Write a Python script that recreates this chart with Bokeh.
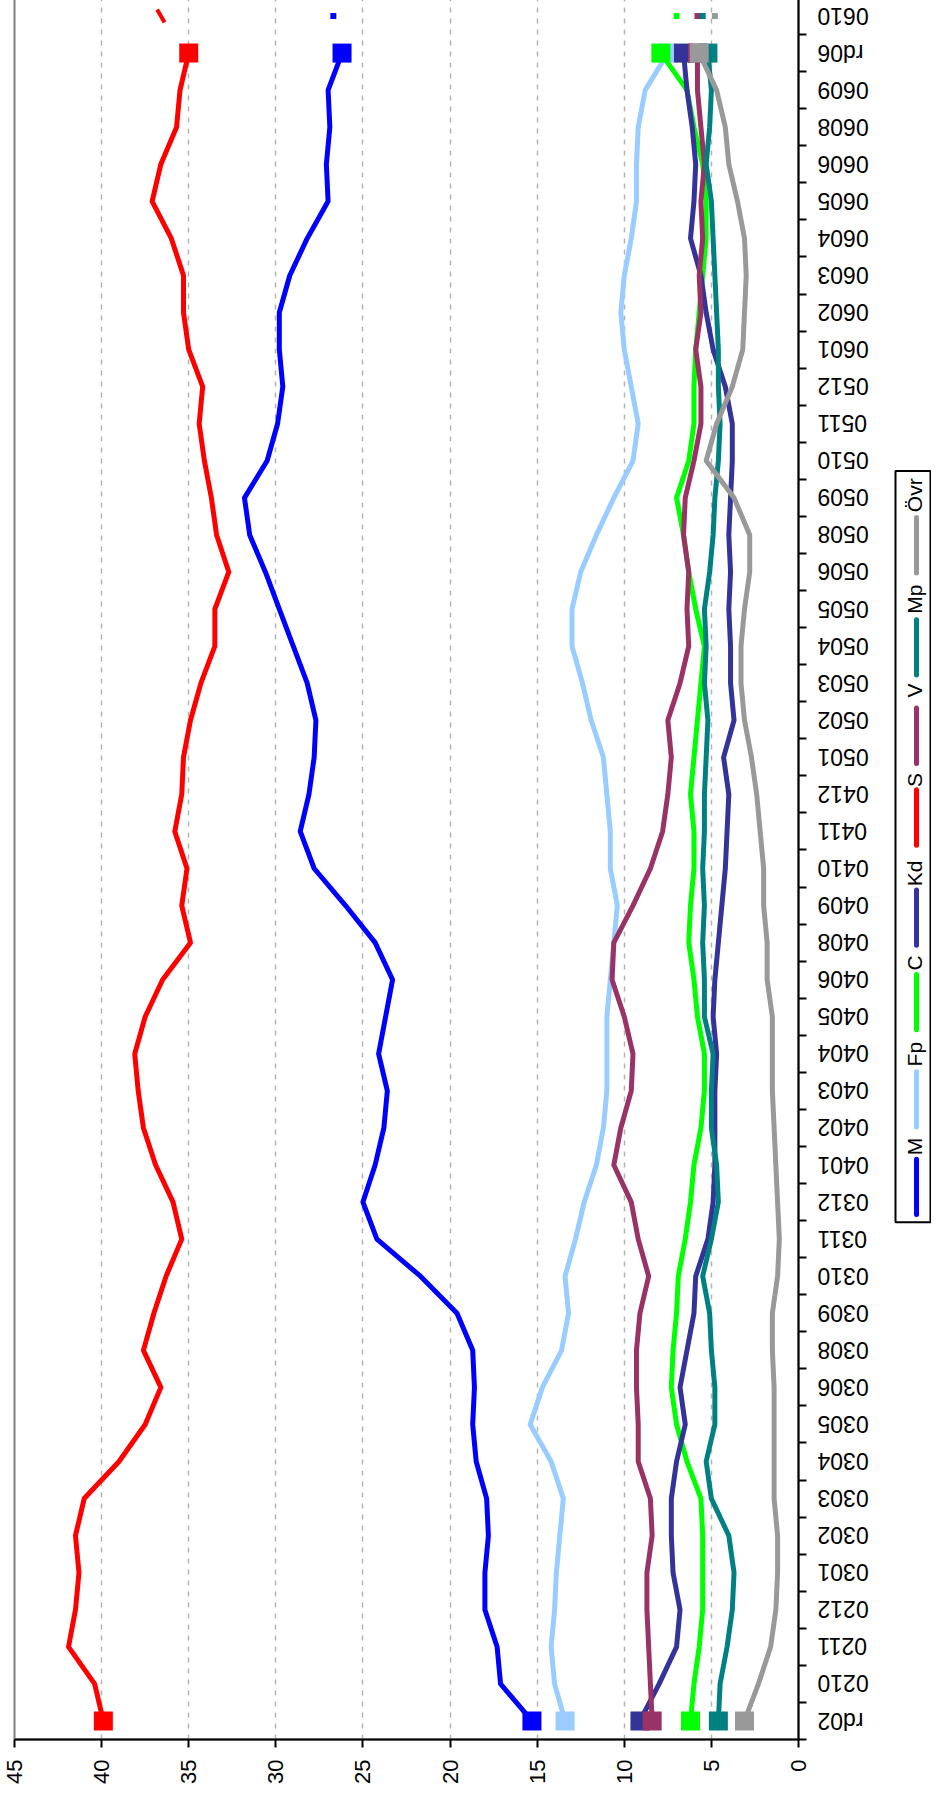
import math
from bokeh.plotting import figure
from bokeh.models import Range1d, FixedTicker, LinearAxis, Grid
from bokeh.layouts import row
from bokeh.embed import file_html
from bokeh.resources import INLINE
from bokeh.core.properties import value

# ---------------- data ----------------
categories = ["rd02", "0210", "0211", "0212", "0301", "0302", "0303", "0304", "0305", "0306",
              "0308", "0309", "0310", "0311", "0312", "0401", "0402", "0403", "0404", "0405",
              "0406", "0408", "0409", "0410", "0411", "0412", "0501", "0502", "0503", "0504",
              "0505", "0506", "0508", "0509", "0510", "0511", "0512", "0601", "0602", "0603",
              "0604", "0605", "0606", "0608", "0609", "rd06", "0610"]

value_ticks = [0, 5, 10, 15, 20, 25, 30, 35, 40, 45]

M = [15.3, 17.1, 17.3, 18.0, 18.0, 17.8, 17.9, 18.5, 18.7, 18.6,
     18.7, 19.6, 21.7, 24.2, 25.0, 24.3, 23.8, 23.6, 24.1, 23.7,
     23.3, 24.3, 26.0, 27.8, 28.6, 28.1, 27.8, 27.7, 28.2, 29.0,
     29.8, 30.6, 31.5, 31.8, 30.5, 29.9, 29.6, 29.8, 29.8, 29.2,
     28.2, 27.0, 27.1, 26.9, 27.0, 26.2]
Fp = [13.4, 14.0, 14.2, 14.0, 13.9, 13.7, 13.5, 14.2, 15.4, 14.7,
      13.6, 13.2, 13.4, 12.8, 12.3, 11.6, 11.2, 11.0, 11.0, 11.0,
      10.8, 10.6, 10.4, 10.8, 10.8, 11.0, 11.2, 11.9, 12.4, 13.0,
      13.0, 12.5, 11.6, 10.6, 9.5, 9.2, 9.6, 10.0, 10.2, 10.0,
      9.6, 9.3, 9.3, 9.2, 8.8, 7.5]
C = [6.2, 6.0, 5.7, 5.5, 5.5, 5.5, 5.6, 6.4, 7.0, 7.3,
     7.2, 7.0, 6.9, 6.5, 6.2, 6.0, 5.6, 5.4, 5.4, 5.8,
     6.0, 6.3, 6.2, 6.0, 6.0, 6.2, 6.0, 5.8, 5.6, 5.4,
     5.9, 6.3, 6.6, 7.0, 6.3, 6.0, 6.0, 5.9, 5.7, 5.5,
     5.3, 5.3, 5.5, 6.0, 6.4, 7.9]
Kd = [9.1, 8.0, 7.0, 6.8, 7.2, 7.3, 7.3, 7.0, 6.5, 6.8,
      6.4, 6.0, 5.9, 5.2, 4.9, 4.8, 4.8, 4.8, 4.7, 4.9,
      4.8, 4.6, 4.4, 4.2, 4.1, 4.0, 4.3, 3.7, 3.9, 3.9,
      4.0, 3.9, 4.0, 3.9, 3.8, 3.8, 4.2, 4.9, 5.3, 5.6,
      6.2, 6.0, 5.9, 6.1, 6.4, 6.6]
S = [39.9, 40.4, 41.9, 41.5, 41.3, 41.5, 41.0, 39.0, 37.5, 36.6,
     37.6, 37.0, 36.3, 35.4, 35.9, 36.9, 37.6, 37.9, 38.1, 37.5,
     36.5, 34.9, 35.4, 35.1, 35.8, 35.4, 35.3, 34.9, 34.3, 33.5,
     33.5, 32.7, 33.4, 33.7, 34.1, 34.4, 34.2, 35.0, 35.3, 35.3,
     36.0, 37.1, 36.6, 35.7, 35.5, 35.0]
V = [8.4, 8.5, 8.6, 8.7, 8.7, 8.4, 8.5, 9.2, 9.2, 9.3,
     9.3, 9.1, 8.6, 9.2, 9.6, 10.6, 10.2, 9.6, 9.5, 10.0,
     10.7, 10.6, 9.5, 8.5, 7.8, 7.5, 7.3, 7.5, 6.8, 6.3,
     6.4, 6.3, 6.6, 6.5, 6.0, 5.6, 5.6, 5.9, 5.6, 5.7,
     5.5, 5.6, 5.4, 5.6, 5.8, 5.8]
Mp = [4.6, 4.5, 4.1, 3.8, 3.7, 4.0, 5.0, 5.3, 4.8, 4.8,
      5.0, 5.1, 5.5, 5.0, 4.6, 4.7, 5.0, 5.0, 4.9, 5.4,
      5.4, 5.5, 5.4, 5.5, 5.4, 5.4, 5.3, 5.2, 5.4, 5.3,
      5.4, 5.1, 4.9, 4.8, 4.6, 4.5, 4.6, 4.6, 4.7, 4.8,
      4.9, 5.0, 5.3, 5.1, 5.0, 5.2]
Ovr = [3.1, 2.3, 1.6, 1.3, 1.2, 1.2, 1.4, 1.4, 1.4, 1.4,
       1.5, 1.5, 1.2, 1.1, 1.2, 1.3, 1.4, 1.5, 1.5, 1.5,
       1.8, 1.8, 2.0, 2.0, 2.2, 2.4, 2.7, 3.1, 3.3, 3.3,
       3.1, 2.8, 2.8, 3.7, 5.3, 4.7, 3.8, 3.2, 3.1, 3.0,
       3.1, 3.5, 4.0, 4.2, 4.7, 5.7]

# poll values for the last category (0610); None = not visible
oct06 = {"M": 26.7, "Fp": None, "C": 7.0, "Kd": 5.6, "S": 36.6, "V": 5.8, "Mp": 5.5, "Övr": 4.8}

series_names = ["M", "Fp", "C", "Kd", "S", "V", "Mp", "Övr"]
series_values = [M, Fp, C, Kd, S, V, Mp, Ovr]
series_colors = ["#0000FF", "#99CCFF", "#00FF00", "#333399", "#FF0000", "#993366", "#008080", "#999999"]

# ---------------- main chart ----------------
FONT = "Liberation Sans"
ncat = len(categories)
H = 1792
BOTTOM = 50

p = figure(width=814, height=H, x_range=Range1d(45, 0), y_range=Range1d(0, ncat),
           output_backend="svg", toolbar_location=None,
           x_axis_type=None, y_axis_type=None,
           min_border_left=14, min_border_right=16, min_border_top=0, min_border_bottom=BOTTOM)
p.background_fill_color = "white"
p.border_fill_color = "white"
p.outline_line_color = "#808080"
p.outline_line_width = 2

xaxis = LinearAxis(ticker=FixedTicker(ticks=value_ticks, minor_ticks=[]))
xaxis.major_label_orientation = math.pi / 2
xaxis.major_label_text_font = FONT
xaxis.major_label_text_font_size = "22px"
xaxis.major_label_text_color = "black"
xaxis.major_label_standoff = 12
xaxis.major_tick_out = 8
xaxis.major_tick_in = 0
xaxis.major_tick_line_width = 2
xaxis.axis_line_width = 2
xaxis.axis_line_color = "black"
p.add_layout(xaxis, "below")

centers = [i + 0.5 for i in range(ncat)]
yaxis = LinearAxis(ticker=FixedTicker(ticks=centers, minor_ticks=list(range(ncat + 1))))
yaxis.major_label_overrides = {c: "" for c in centers}
yaxis.major_label_standoff = 0
yaxis.major_tick_out = 0
yaxis.major_tick_in = 0
yaxis.minor_tick_out = 8
yaxis.minor_tick_in = 0
yaxis.minor_tick_line_width = 2
yaxis.minor_tick_line_color = "black"
yaxis.axis_line_width = 2
yaxis.axis_line_color = "black"
p.add_layout(yaxis, "right")

grid = Grid(dimension=0, ticker=FixedTicker(ticks=value_ticks[1:-1]))
grid.grid_line_color = "#b4b4b4"
grid.grid_line_width = 1.5
grid.grid_line_dash = "5 6"
p.add_layout(grid)

for name, vals, col in zip(series_names, series_values, series_colors):
    ys = centers[:len(vals)]
    p.line(x=vals, y=ys, line_color=col, line_width=5, line_join="round")
    p.scatter(x=[vals[0], vals[-1]], y=[ys[0], ys[-1]], marker="square", size=19,
              fill_color=col, line_color=None)

for name, col in zip(series_names, series_colors):
    v = oct06[name]
    if v is None:
        continue
    if name == "S":
        p.scatter(x=[v], y=[centers[-1]], marker="dash", size=15, angle=-1.05,
                  line_color=col, line_width=4)
    else:
        p.scatter(x=[v], y=[centers[-1]], marker="square", size=6,
                  fill_color=col, line_color=None)

# ---------------- category labels panel (upside-down text, as in the rotated chart) ----------------
r = figure(width=73, height=H, x_range=Range1d(0, 73), y_range=p.y_range,
           output_backend="svg", toolbar_location=None,
           x_axis_type=None, y_axis_type=None,
           min_border_left=0, min_border_right=0, min_border_top=0, min_border_bottom=BOTTOM)
r.outline_line_color = None
r.background_fill_color = "white"
r.border_fill_color = "white"
r.grid.visible = False
r.text(x=[3] * ncat, y=centers, text=categories, angle=math.pi,
       text_align="right", text_baseline="middle",
       text_font=value(FONT), text_font_size="23px", text_color="black")

# ---------------- legend panel (rotated like the chart) ----------------
q = figure(width=44, height=H, x_range=Range1d(0, 44), y_range=Range1d(H, 0),
           output_backend="svg", toolbar_location=None,
           x_axis_type=None, y_axis_type=None, min_border=0)
q.outline_line_color = None
q.background_fill_color = "white"
q.border_fill_color = "white"
q.grid.visible = False

legend_line_bottom = [1252, 1162, 1062, 975, 872, 788, 697, 592]
legend_text_center = [1182, 1087, 993, 901, 805, 713, 619, 512]
line_len = 57
q.quad(left=[8], right=[43], top=[487], bottom=[1260], fill_color=None,
       line_color="black", line_width=2)
q.segment(x0=[29] * 8, x1=[29] * 8, y0=legend_line_bottom,
          y1=[b - line_len for b in legend_line_bottom],
          line_color=series_colors, line_width=5, line_cap="round")
q.text(x=[27] * 8, y=legend_text_center, text=series_names, angle=math.pi / 2,
       text_align="center", text_baseline="middle",
       text_font=value(FONT), text_font_size="21px", text_color="black")

layout = row(p, r, q, margin=(-3, 0, 0, 0))
open("out.html", "w").write(file_html(layout, INLINE))
